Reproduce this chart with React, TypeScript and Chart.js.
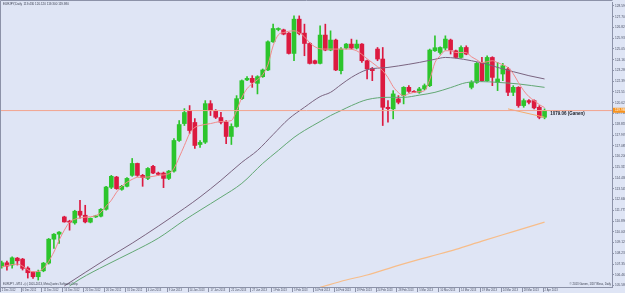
import React, { useEffect, useRef } from 'react';
import { Chart, registerables } from 'chart.js';

Chart.register(...registerables);

// ---- data (EURJPY daily candles) ----
const opens = [
  107.13, 107.46, 107.27, 107.84, 107.76, 107.02, 106.70, 106.31, 106.80, 107.43,
  109.40, 109.81, 111.23, 110.88, 110.74, 111.70, 111.37, 110.80, 111.23, 111.29,
  111.86, 113.67, 114.51, 113.50, 113.75, 114.65, 115.63, 114.65, 114.40, 115.39,
  114.84, 114.84, 114.40, 115.00, 117.52, 118.91, 119.98, 119.00, 117.19, 117.38,
  120.55, 119.92, 119.41, 119.02, 117.85, 118.67, 120.96, 122.50, 122.63, 122.22,
  122.77, 123.32, 125.64, 126.65, 126.62, 126.35, 124.68, 127.50, 126.35, 125.50,
  124.08, 123.86, 126.19, 124.96, 125.78, 123.26, 125.12, 125.45, 125.12, 125.45,
  124.08, 123.45, 125.04, 124.22, 120.25, 120.12, 120.94, 121.21, 121.89, 121.56,
  121.48, 121.76, 122.03, 124.90, 124.76, 125.12, 125.78, 124.90, 124.35, 125.17,
  121.89, 122.30, 123.94, 122.44, 124.35, 122.30, 122.99, 123.40, 121.48, 121.89,
  120.39, 120.80, 120.80, 120.25, 119.43,
];
const highs = [
  107.60, 107.60, 107.95, 107.90, 107.82, 107.13, 106.72, 106.86, 107.49, 109.46,
  109.87, 110.03, 111.29, 110.96, 111.78, 112.60, 112.19, 111.15, 111.37, 111.92,
  113.75, 114.65, 114.57, 113.83, 114.46, 116.04, 115.66, 114.73, 115.28, 115.47,
  114.92, 114.92, 115.06, 117.68, 119.16, 120.14, 120.39, 119.32, 117.52, 120.80,
  120.80, 120.06, 119.84, 119.16, 118.89, 121.21, 122.50, 122.77, 122.85, 122.85,
  123.40, 125.72, 127.09, 126.79, 126.68, 126.40, 127.77, 127.77, 127.09, 125.58,
  124.14, 126.95, 127.09, 126.54, 125.86, 125.17, 125.50, 125.86, 125.78, 125.50,
  124.14, 123.53, 125.17, 125.17, 120.80, 121.62, 121.21, 121.95, 122.03, 121.62,
  121.89, 122.17, 125.04, 126.13, 125.23, 126.13, 125.86, 124.96, 125.31, 125.31,
  122.44, 123.94, 124.35, 124.49, 124.41, 123.94, 123.86, 123.53, 122.03, 121.95,
  120.94, 120.88, 120.86, 120.39, 120.12,
];
const lows = [
  107.02, 106.86, 107.02, 107.27, 106.86, 106.20, 106.18, 106.04, 106.72, 107.35,
  108.64, 109.05, 110.80, 110.14, 110.63, 111.12, 110.74, 110.74, 111.18, 111.23,
  111.78, 113.56, 113.50, 113.42, 113.69, 114.57, 114.57, 113.75, 114.30, 114.79,
  114.65, 113.64, 114.30, 114.92, 117.44, 118.75, 118.09, 116.86, 116.95, 117.27,
  119.57, 119.32, 118.89, 117.25, 117.19, 118.61, 120.88, 122.44, 121.89, 121.35,
  122.71, 123.26, 125.58, 126.54, 126.21, 124.63, 124.08, 126.21, 124.49, 123.81,
  123.81, 123.81, 124.90, 124.90, 123.26, 122.99, 125.04, 125.04, 125.04, 123.94,
  122.58, 122.44, 124.08, 118.75, 119.02, 119.30, 120.53, 120.53, 121.48, 121.46,
  121.40, 121.68, 121.95, 124.84, 124.63, 124.96, 124.63, 124.30, 124.30, 124.57,
  121.76, 122.22, 122.38, 122.38, 122.03, 121.62, 122.44, 121.21, 121.21, 120.25,
  120.25, 120.53, 120.12, 119.30, 119.30,
];
const closes = [
  107.46, 107.19, 107.87, 107.62, 107.00, 106.64, 106.31, 106.70, 107.43, 109.40,
  109.81, 109.98, 110.82, 110.80, 111.70, 111.37, 110.82, 111.12, 111.29, 111.86,
  113.69, 114.57, 113.56, 113.75, 114.40, 115.63, 114.65, 114.46, 115.22, 114.84,
  114.73, 114.40, 115.00, 117.52, 118.83, 119.82, 118.34, 117.11, 117.36, 120.55,
  119.98, 119.43, 119.02, 117.85, 118.67, 120.96, 122.44, 122.63, 122.30, 122.77,
  123.32, 125.64, 126.73, 126.68, 126.27, 124.68, 127.50, 126.32, 125.50, 123.86,
  123.86, 126.19, 124.96, 125.78, 123.32, 125.04, 125.45, 125.12, 125.45, 124.08,
  123.40, 123.26, 124.22, 120.25, 120.14, 121.35, 120.66, 121.89, 121.56, 121.48,
  121.76, 122.03, 124.96, 125.15, 125.17, 125.86, 124.96, 124.35, 125.17, 124.63,
  122.30, 123.86, 122.44, 124.35, 122.71, 122.58, 123.67, 121.48, 121.89, 120.39,
  120.80, 120.66, 120.20, 119.43, 119.98,
];

// fast moving average (pink), sampled at bar indexes
const fastMaIdx = [0, 3, 6, 8, 10, 11, 12, 13, 14, 16, 18, 19, 20, 21, 22, 23, 24, 25, 26, 28, 30, 32, 33, 34, 35, 36, 37, 38, 40, 42, 44, 45, 46, 47, 48, 49, 50, 51, 52, 53, 54, 56, 57, 58, 59, 60, 61, 62, 64, 66, 68, 70, 71, 72, 73, 74, 75, 76, 77, 78, 79, 80, 81, 82, 83, 84, 85, 86, 87, 88, 89, 90, 91, 92, 93, 94, 95, 96, 97, 98, 99, 100, 101, 102, 103, 104];
const fastMaVal = [107.13, 107.35, 106.72, 107.00, 108.34, 109.32, 110.14, 110.80, 111.04, 111.21, 111.33, 111.62, 112.11, 112.60, 113.26, 113.75, 114.08, 114.32, 114.49, 114.51, 114.65, 114.79, 115.22, 116.13, 117.11, 118.09, 118.59, 118.75, 118.91, 119.08, 119.16, 119.98, 121.05, 121.78, 122.19, 122.52, 122.93, 123.75, 125.31, 126.21, 126.40, 126.54, 126.38, 126.05, 125.56, 125.23, 125.06, 125.04, 125.04, 125.04, 124.90, 124.24, 123.92, 123.59, 123.26, 122.69, 121.95, 121.46, 121.21, 121.37, 121.48, 121.54, 121.62, 122.52, 123.92, 124.49, 124.90, 124.90, 124.76, 124.76, 124.74, 124.41, 124.16, 123.92, 124.00, 124.08, 123.92, 123.75, 123.51, 123.01, 122.28, 121.62, 121.13, 120.80, 120.47, 120.23];

// slower moving average (purple)
const midMaIdx = [12, 20, 25, 30, 35, 38, 42, 46, 49, 52, 55, 58, 61, 63, 65, 67, 70, 74, 78, 80, 83, 85, 87, 90, 93, 95, 98, 101, 104];
const midMaVal = [105.55, 107.76, 109.07, 110.47, 111.94, 112.87, 114.24, 115.72, 116.70, 118.01, 119.30, 120.25, 121.13, 121.48, 122.11, 122.71, 123.34, 123.53, 123.79, 123.94, 124.20, 124.35, 124.29, 124.08, 123.79, 123.53, 123.18, 122.85, 122.58];

// slow moving average (green)
const slowMaIdx = [13, 15, 20, 25, 30, 35, 38, 42, 46, 50, 53, 56, 58, 61, 63, 65, 67, 70, 74, 77, 80, 83, 86, 89, 92, 95, 99, 104];
const slowMaVal = [105.55, 106.12, 107.27, 108.34, 109.48, 110.96, 111.78, 112.85, 113.99, 115.63, 116.70, 117.77, 118.34, 119.08, 119.57, 119.98, 120.39, 120.88, 121.07, 121.07, 121.25, 121.48, 121.87, 122.28, 122.36, 122.30, 122.17, 121.89];

// very slow moving average (orange)
const longMaIdx = [61, 66, 70, 76, 82, 87, 92, 98, 104];
const longMaVal = [105.44, 106.04, 106.45, 107.25, 107.97, 108.56, 109.24, 110.02, 110.80];

// short drawn trend line
const trendIdx = [97, 104];
const trendVal = [120.12, 119.43];

const dateTickLabels = [
  '2 Dec 2012', '6 Dec 2012', '11 Dec 2012', '16 Dec 2012', '20 Dec 2012', '26 Dec 2012', '31 Dec 2012',
  '4 Jan 2013', '9 Jan 2013', '14 Jan 2013', '17 Jan 2013', '22 Jan 2013', '27 Jan 2013',
  '1 Feb 2013', '5 Feb 2013', '10 Feb 2013', '14 Feb 2013', '19 Feb 2013', '24 Feb 2013', '28 Feb 2013',
  '5 Mar 2013', '10 Mar 2013', '14 Mar 2013', '19 Mar 2013', '24 Mar 2013', '28 Mar 2013', '2 Apr 2013',
];
const barsPerDateLabel = 4;

const priceTicks = [
  128.590, 127.705, 126.820, 125.935, 125.050, 124.165, 123.280, 122.395, 121.510, 120.625,
  119.740, 118.855, 117.970, 117.085, 116.200, 115.315, 114.430, 113.545, 112.660, 111.775,
  110.890, 110.005, 109.120, 108.235, 107.350, 106.465, 105.580,
];

const titleText = 'EURJPY,Daily  119.430 120.120 119.300 119.980';
const lineLabelText = '1079.06 (Ganen)';
const footerLeft = 'EURJPY - MT4 - (c) 2001-2013, MetaQuotes Software Corp.';
const footerRight = '\u00a9 2013 Ganen, 1/1/7 Bless, Daily';

const X_MIN = -0.134;
const X_MAX = 116.92;
const Y_MIN = 105.466;
const Y_MAX = 128.836;

const BG = '#dfe5f5';
const UP = '#2cc52c';
const DOWN = '#dc1a40';
const FONT = '"Liberation Sans", Arial, sans-serif';

export default function App() {
  const ref = useRef<HTMLCanvasElement | null>(null);

  useEffect(() => {
    document.body.style.margin = '0';
    const canvas = ref.current;
    if (!canvas) return;

    const candleColors = opens.map((o, i) => (closes[i] >= o ? UP : DOWN));
    const lastClose = closes[closes.length - 1];

    const toPts = (idx: number[], val: number[]) => idx.map((x, i) => ({ x, y: val[i] }));

    const bgPlugin = {
      id: 'bgfill',
      beforeDraw(chart: any) {
        const { ctx, width, height } = chart;
        ctx.save();
        ctx.fillStyle = BG;
        ctx.fillRect(0, 0, width, height);
        ctx.restore();
      },
    };

    const overlayPlugin = {
      id: 'overlay',
      afterDraw(chart: any) {
        const { ctx } = chart;
        const { right, bottom } = chart.chartArea;
        const xs = chart.scales.x;
        const ys = chart.scales.y;
        ctx.save();
        // frame
        ctx.strokeStyle = '#8c92a8';
        ctx.lineWidth = 1;
        ctx.beginPath();
        ctx.moveTo(0.5, bottom + 0.5);
        ctx.lineTo(0.5, 0.5);
        ctx.lineTo(right + 0.5, 0.5);
        ctx.stroke();
        ctx.beginPath();
        ctx.moveTo(0, bottom + 0.5);
        ctx.lineTo(right + 1, bottom + 0.5);
        ctx.stroke();

        // date labels
        ctx.font = `2.7px ${FONT}`;
        ctx.textBaseline = 'middle';
        ctx.textAlign = 'left';
        dateTickLabels.forEach((lab, k) => {
          const px = xs.getPixelForValue(k * barsPerDateLabel);
          ctx.strokeStyle = '#8c92a8';
          ctx.beginPath();
          ctx.moveTo(Math.round(px - 2) + 0.5, bottom);
          ctx.lineTo(Math.round(px - 2) + 0.5, bottom + 5);
          ctx.stroke();
          ctx.fillStyle = '#4a5064';
          ctx.fillText(lab, px, bottom + 3.6);
        });

        // title
        ctx.fillStyle = '#3a3f50';
        ctx.font = `3px ${FONT}`;
        ctx.fillText(titleText, 3, 4);

        // footers
        ctx.font = `2.8px ${FONT}`;
        ctx.fillText(footerLeft, 3, bottom - 3);
        ctx.textAlign = 'right';
        ctx.fillText(footerRight, right - 1, bottom - 3);

        // current price label on the axis
        const py = ys.getPixelForValue(lastClose);
        ctx.fillStyle = '#f7931e';
        ctx.fillRect(right + 1, py - 2.8, 45, 5);
        ctx.fillStyle = '#ffffff';
        ctx.textAlign = 'left';
        ctx.font = `3.2px ${FONT}`;
        ctx.fillText(lastClose.toFixed(3), right + 3, py - 0.2);

        // bold text next to the price line
        ctx.fillStyle = '#20232c';
        ctx.font = `bold 4.5px ${FONT}`;
        ctx.fillText(lineLabelText, xs.getPixelForValue(105.1), py + 3.6);
        ctx.restore();
      },
    };

    const chart = new Chart(canvas, {
      type: 'bar',
      data: {
        datasets: [
          {
            type: 'line',
            label: 'price line',
            data: [{ x: X_MIN, y: lastClose }, { x: X_MAX, y: lastClose }],
            borderColor: '#f3a48e',
            borderWidth: 1,
            pointRadius: 0,
            order: 0,
          } as any,
          {
            type: 'line',
            label: 'trend',
            data: toPts(trendIdx, trendVal),
            borderColor: '#f5ae6e',
            borderWidth: 1,
            pointRadius: 0,
            order: 0,
          } as any,
          {
            type: 'line',
            label: 'MA fast',
            data: toPts(fastMaIdx, fastMaVal),
            borderColor: '#f28a8a',
            borderWidth: 1,
            pointRadius: 0,
            cubicInterpolationMode: 'monotone',
            order: 1,
          } as any,
          {
            type: 'line',
            label: 'MA mid',
            data: toPts(midMaIdx, midMaVal),
            borderColor: '#7a6480',
            borderWidth: 1,
            pointRadius: 0,
            cubicInterpolationMode: 'monotone',
            order: 1,
          } as any,
          {
            type: 'line',
            label: 'MA slow',
            data: toPts(slowMaIdx, slowMaVal),
            borderColor: '#62a874',
            borderWidth: 1,
            pointRadius: 0,
            cubicInterpolationMode: 'monotone',
            order: 1,
          } as any,
          {
            type: 'line',
            label: 'MA long',
            data: toPts(longMaIdx, longMaVal),
            borderColor: '#f7bd8a',
            borderWidth: 1.2,
            pointRadius: 0,
            cubicInterpolationMode: 'monotone',
            order: 1,
          } as any,
          {
            type: 'bar',
            label: 'bodies',
            data: opens.map((o, i) => ({ x: i, y: [o, closes[i]] })),
            backgroundColor: candleColors,
            barThickness: 4,
            minBarLength: 1,
            grouped: false,
            borderWidth: 0,
            order: 4,
          } as any,
          {
            type: 'bar',
            label: 'wicks',
            data: lows.map((l, i) => ({ x: i, y: [l, highs[i]] })),
            backgroundColor: candleColors,
            barThickness: 1,
            grouped: false,
            borderWidth: 0,
            order: 5,
          } as any,
        ],
      },
      options: {
        animation: false,
        responsive: false,
        devicePixelRatio: 1,
        layout: { padding: { left: 1, top: 1, right: 0, bottom: 6 } },
        plugins: { legend: { display: false }, tooltip: { enabled: false } },
        scales: {
          x: {
            type: 'linear',
            min: X_MIN,
            max: X_MAX,
            offset: false,
            grace: 0,
            display: false,
          },
          y: {
            type: 'linear',
            position: 'right',
            min: Y_MIN,
            max: Y_MAX,
            afterBuildTicks: (scale: any) => {
              scale.ticks = priceTicks.map((v) => ({ value: v }));
            },
            afterFit: (scale: any) => {
              scale.width = 48;
            },
            ticks: {
              autoSkip: false,
              padding: 1,
              color: '#4a5064',
              font: { size: 3.2, family: FONT },
              callback: (v: any) => Number(v).toFixed(3),
            },
            grid: { drawOnChartArea: false, drawTicks: true, tickLength: 2, color: '#8c92a8' },
            border: { display: true, color: '#8c92a8' },
          },
        },
      } as any,
      plugins: [bgPlugin, overlayPlugin],
    });

    return () => chart.destroy();
  }, []);

  return (
    <div style={{ width: 625, height: 293, overflow: 'hidden', position: 'relative' }}>
      <canvas ref={ref} width={660} height={293} style={{ display: 'block', width: 660, height: 293 }} />
    </div>
  );
}
